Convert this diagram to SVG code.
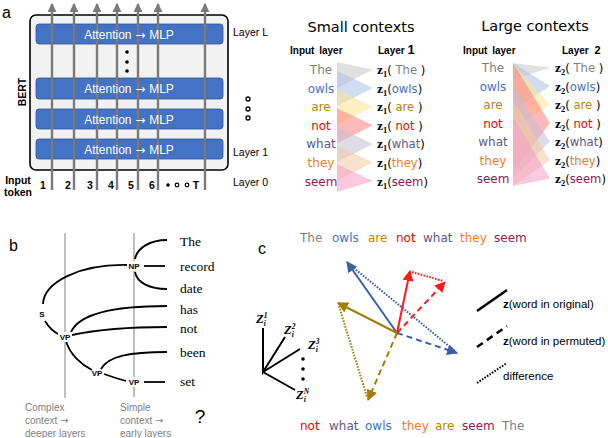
<svg xmlns="http://www.w3.org/2000/svg" width="608" height="438" viewBox="0 0 608 438">
<style>
.lbl{font-family:"Liberation Sans",Arial,sans-serif;font-size:16px;fill:#000}
.lay{font-family:"Liberation Sans",Arial,sans-serif;font-size:10.5px;fill:#000}
.bold{font-weight:bold}
.att{font-family:"Liberation Sans",Arial,sans-serif;font-size:12px;fill:#fff;text-anchor:middle}
.arr{font-family:"DejaVu Sans",sans-serif}
.bar{fill:#4472c4;stroke:#2f5597;stroke-width:0.8}
.tok{stroke:#7a7a7a;stroke-width:2.4}
.w{font-family:"DejaVu Sans",Verdana,sans-serif;font-size:12px}
.wz{font-family:"DejaVu Sans",Verdana,sans-serif;font-size:11.6px}
.ttl{font-family:"DejaVu Sans",Verdana,sans-serif;font-size:14.5px;fill:#000;text-anchor:middle}
.hdr{font-family:"Liberation Sans",Arial,sans-serif;font-size:10px;font-weight:bold;fill:#000}
.zs{font-family:"Liberation Serif","DejaVu Serif",serif;font-weight:bold;fill:#000}
.c-the{fill:#7f7f7f}.c-owls{fill:#4472c4}.c-are{fill:#b38800}.c-not{fill:#ff0000}.c-what{fill:#5c5a85}.c-they{fill:#ed7d31}.c-seem{fill:#8b1a56}
.tri{fill-opacity:0.55;stroke:none}
.tree{fill:none;stroke:#000;stroke-width:1.8}
.sw{font-family:"Liberation Serif","DejaVu Serif",serif;font-size:13.5px;fill:#000}
.node{font-family:"Liberation Sans",Arial,sans-serif;font-size:8px;font-weight:bold;fill:#000;text-anchor:middle}
.cap{font-family:"Liberation Sans",Arial,sans-serif;font-size:10px;fill:#7f7f7f}
.vl{stroke:#808080;stroke-width:1}
.ax{stroke:#000;stroke-width:2;fill:none}
.axl{font-family:"Liberation Serif","DejaVu Serif",serif;font-weight:bold;font-style:italic;font-size:12.5px;fill:#000}
.leg{font-family:"Liberation Sans",Arial,sans-serif;font-size:11.5px;fill:#000}
.vb{stroke:#3a5ea8;stroke-width:2;fill:none}
.vr{stroke:#ff1a1a;stroke-width:2;fill:none}
.vg{stroke:#a67c00;stroke-width:2;fill:none}
.dash{stroke-dasharray:6 4}
.dot{stroke-dasharray:1.6 1.4}
</style>
<defs>
<marker id="ag" viewBox="0 0 10 10" refX="9" refY="5" markerWidth="9" markerHeight="9" markerUnits="userSpaceOnUse" orient="auto"><path d="M0,0 L10,5 L0,10 z" fill="#7a7a7a"/></marker>
<marker id="ab" viewBox="0 0 10 10" refX="9" refY="5" markerWidth="11" markerHeight="11" markerUnits="userSpaceOnUse" orient="auto"><path d="M0,0 L10,5 L0,10 z" fill="#3a5ea8"/></marker>
<marker id="ar" viewBox="0 0 10 10" refX="9" refY="5" markerWidth="11" markerHeight="11" markerUnits="userSpaceOnUse" orient="auto"><path d="M0,0 L10,5 L0,10 z" fill="#ff1a1a"/></marker>
<marker id="ao" viewBox="0 0 10 10" refX="9" refY="5" markerWidth="11" markerHeight="11" markerUnits="userSpaceOnUse" orient="auto"><path d="M0,0 L10,5 L0,10 z" fill="#a67c00"/></marker>
</defs>
<rect width="608" height="438" fill="#fff"/>

<!-- Panel a: BERT -->
<g id="panel-a-bert">
<text class="lbl" x="2" y="18" font-size="17">a</text>
<rect x="30" y="15" width="198" height="155" rx="6" fill="#f2f2f2" stroke="#000" stroke-width="1.6"/>
<rect class="bar" x="36" y="24" width="187" height="20" rx="3"/>
<rect class="bar" x="36" y="78" width="187" height="21" rx="3"/>
<rect class="bar" x="36" y="109" width="187" height="20" rx="3"/>
<rect class="bar" x="36" y="139" width="187" height="20" rx="3"/>
<g id="token-arrows">
<line class="tok" x1="52" y1="190" x2="52" y2="4" marker-end="url(#ag)"/>
<line class="tok" x1="74" y1="190" x2="74" y2="4" marker-end="url(#ag)"/>
<line class="tok" x1="97" y1="190" x2="97" y2="4" marker-end="url(#ag)"/>
<line class="tok" x1="117" y1="190" x2="117" y2="4" marker-end="url(#ag)"/>
<line class="tok" x1="138" y1="190" x2="138" y2="4" marker-end="url(#ag)"/>
<line class="tok" x1="158" y1="190" x2="158" y2="4" marker-end="url(#ag)"/>
<line class="tok" x1="205" y1="190" x2="205" y2="4" marker-end="url(#ag)"/>
</g>
<g id="bar-L"><text class="att" x="129" y="38.5">Attention<tspan class="arr"> → </tspan>MLP</text></g>
<g id="bar-3"><text class="att" x="129" y="93">Attention<tspan class="arr"> → </tspan>MLP</text></g>
<g id="bar-2"><text class="att" x="129" y="123.5">Attention<tspan class="arr"> → </tspan>MLP</text></g>
<g id="bar-1"><text class="att" x="129" y="153.5">Attention<tspan class="arr"> → </tspan>MLP</text></g>
<circle cx="127" cy="52" r="1.8" fill="#000"/><circle cx="127" cy="62" r="1.8" fill="#000"/><circle cx="127" cy="71" r="1.8" fill="#000"/>
<circle cx="248" cy="99" r="2" fill="#fff" stroke="#000" stroke-width="1.3"/><circle cx="248" cy="109" r="2" fill="#fff" stroke="#000" stroke-width="1.3"/><circle cx="248" cy="118" r="2" fill="#fff" stroke="#000" stroke-width="1.3"/>
<text class="lay" x="233" y="36">Layer L</text>
<text class="lay" x="233" y="156">Layer 1</text>
<text class="lay" x="233" y="186">Layer 0</text>
<text class="lay bold" font-size="11" transform="translate(26,92) rotate(-90)" text-anchor="middle">BERT</text>
<text class="lay bold" x="18" y="184" font-size="10" text-anchor="middle">Input</text>
<text class="lay bold" x="18" y="196" font-size="10" text-anchor="middle">token</text>
<g class="lay bold" text-anchor="middle" font-size="10.5">
<text x="43" y="189">1</text><text x="68" y="189">2</text><text x="90" y="189">3</text><text x="111" y="189">4</text><text x="131" y="189">5</text><text x="152" y="189">6</text><text x="196" y="189">T</text>
</g>
<circle cx="168" cy="185" r="1.8" fill="#000"/>
<circle cx="177" cy="185" r="1.8" fill="#fff" stroke="#000" stroke-width="1.2"/>
<circle cx="187" cy="185" r="1.8" fill="#fff" stroke="#000" stroke-width="1.2"/>
</g>

<!-- Panel a: small contexts -->
<g id="panel-a-small">
<text class="ttl" x="361" y="32">Small contexts</text>
<text class="hdr" x="290" y="54" word-spacing="2">Input layer</text>
<text class="hdr" x="378" y="54">Layer <tspan font-size="13">1</tspan></text>
<g id="small-triangles">
<polygon class="tri" fill="#c8c8c8" points="337,62 373,69.5 337,88"/>
<polygon class="tri" fill="#a9c0e6" points="337,71 373,88.1 337,106"/>
<polygon class="tri" fill="#fde38f" points="337,89.7 373,106.7 337,124.7"/>
<polygon class="tri" fill="#ff8080" points="337,108.3 373,125.3 337,143.3"/>
<polygon class="tri" fill="#c3bfd6" points="337,126.9 373,143.9 337,161.9"/>
<polygon class="tri" fill="#f6c9a3" points="337,145.5 373,162.5 337,180.5"/>
<polygon class="tri" fill="#f59cc6" points="337,164.1 373,181.1 337,192"/>
</g>
<g class="w" text-anchor="middle">
<text class="c-the" x="321" y="74">The</text>
<text class="c-owls" x="321" y="92.5">owls</text>
<text class="c-are" x="321" y="111">are</text>
<text class="c-not" x="321" y="129.5">not</text>
<text class="c-what" x="321" y="148">what</text>
<text class="c-they" x="321" y="167">they</text>
<text class="c-seem" x="321" y="185.5">seem</text>
</g>
<g class="wz">
<text x="377" y="74"><tspan class="zs" font-size="13.5">z</tspan><tspan class="zs" font-size="8.5" dy="3">1</tspan><tspan dy="-3">(</tspan><tspan class="c-the"> The </tspan>)</text>
<text x="377" y="92.5"><tspan class="zs" font-size="13.5">z</tspan><tspan class="zs" font-size="8.5" dy="3">1</tspan><tspan dy="-3">(</tspan><tspan class="c-owls">owls</tspan>)</text>
<text x="377" y="111"><tspan class="zs" font-size="13.5">z</tspan><tspan class="zs" font-size="8.5" dy="3">1</tspan><tspan dy="-3">(</tspan><tspan class="c-are"> are </tspan>)</text>
<text x="377" y="129.5"><tspan class="zs" font-size="13.5">z</tspan><tspan class="zs" font-size="8.5" dy="3">1</tspan><tspan dy="-3">(</tspan><tspan class="c-not"> not </tspan>)</text>
<text x="377" y="148"><tspan class="zs" font-size="13.5">z</tspan><tspan class="zs" font-size="8.5" dy="3">1</tspan><tspan dy="-3">(</tspan><tspan class="c-what">what</tspan>)</text>
<text x="377" y="167"><tspan class="zs" font-size="13.5">z</tspan><tspan class="zs" font-size="8.5" dy="3">1</tspan><tspan dy="-3">(</tspan><tspan class="c-they">they</tspan>)</text>
<text x="377" y="185.5"><tspan class="zs" font-size="13.5">z</tspan><tspan class="zs" font-size="8.5" dy="3">1</tspan><tspan dy="-3">(</tspan><tspan class="c-seem">seem</tspan>)</text>
</g>
</g>

<!-- Panel a: large contexts -->
<g id="panel-a-large">
<text class="ttl" x="535" y="31">Large contexts</text>
<text class="hdr" x="463" y="54" word-spacing="2">Input layer</text>
<text class="hdr" x="562" y="54">Layer <tspan font-size="11" dx="3">2</tspan></text>
<g id="large-triangles">
<polygon class="tri" fill="#c8c8c8" points="513,63 550,67.5 513,80"/>
<polygon class="tri" fill="#a9c0e6" points="513,63 550,86 513,110"/>
<polygon class="tri" fill="#fde38f" points="513,63 550,104.5 513,128"/>
<polygon class="tri" fill="#ff8080" points="513,63 550,123 513,172"/>
<polygon class="tri" fill="#c3bfd6" points="513,86 550,141.5 513,178"/>
<polygon class="tri" fill="#f6c9a3" points="513,100 550,160 513,186"/>
<polygon class="tri" fill="#f59cc6" points="513,117 550,178.5 513,186"/>
</g>
<g class="w" text-anchor="middle">
<text class="c-the" x="493" y="72">The</text>
<text class="c-owls" x="493" y="90.5">owls</text>
<text class="c-are" x="493" y="109">are</text>
<text class="c-not" x="493" y="127.5">not</text>
<text class="c-what" x="493" y="146">what</text>
<text class="c-they" x="493" y="164.5">they</text>
<text class="c-seem" x="493" y="183">seem</text>
</g>
<g class="wz">
<text x="555" y="72"><tspan class="zs" font-size="13.5">z</tspan><tspan class="zs" font-size="8.5" dy="3">2</tspan><tspan dy="-3">(</tspan><tspan class="c-the"> The </tspan>)</text>
<text x="555" y="90.5"><tspan class="zs" font-size="13.5">z</tspan><tspan class="zs" font-size="8.5" dy="3">2</tspan><tspan dy="-3">(</tspan><tspan class="c-owls">owls</tspan>)</text>
<text x="555" y="109"><tspan class="zs" font-size="13.5">z</tspan><tspan class="zs" font-size="8.5" dy="3">2</tspan><tspan dy="-3">(</tspan><tspan class="c-are"> are </tspan>)</text>
<text x="555" y="127.5"><tspan class="zs" font-size="13.5">z</tspan><tspan class="zs" font-size="8.5" dy="3">2</tspan><tspan dy="-3">(</tspan><tspan class="c-not"> not </tspan>)</text>
<text x="555" y="146"><tspan class="zs" font-size="13.5">z</tspan><tspan class="zs" font-size="8.5" dy="3">2</tspan><tspan dy="-3">(</tspan><tspan class="c-what">what</tspan>)</text>
<text x="555" y="164.5"><tspan class="zs" font-size="13.5">z</tspan><tspan class="zs" font-size="8.5" dy="3">2</tspan><tspan dy="-3">(</tspan><tspan class="c-they">they</tspan>)</text>
<text x="555" y="183"><tspan class="zs" font-size="13.5">z</tspan><tspan class="zs" font-size="8.5" dy="3">2</tspan><tspan dy="-3">(</tspan><tspan class="c-seem">seem</tspan>)</text>
</g>
</g>

<!-- Panel b: parse tree -->
<g id="panel-b">
<text class="lbl" x="9" y="251" font-size="17">b</text>
<line class="vl" x1="65" y1="233" x2="65" y2="398"/>
<line class="vl" x1="134" y1="233" x2="134" y2="397"/>
<g id="tree-edges">
<path class="tree" d="M43 304 C44 282 80 264 127 265"/>
<path class="tree" d="M45 321 Q51 331 60 335"/>
<path class="tree" d="M135 259 C137 248 150 240 167 240"/>
<path class="tree" d="M144 266 L165 266"/>
<path class="tree" d="M135 272 C137 283 150 289 167 289"/>
<path class="tree" d="M71 332 C80 312 120 306 167 306"/>
<path class="tree" d="M72 335 C100 329 130 327 167 327"/>
<path class="tree" d="M66 341 C70 355 82 365 92 370"/>
<path class="tree" d="M101 369 C108 356 130 352 167 352"/>
<path class="tree" d="M104 374 Q115 378 126 381"/>
<path class="tree" d="M144 382 L165 382"/>
</g>
<g id="node-NP"><rect x="127" y="261" width="14" height="10" fill="#fff"/><text class="node" x="134" y="269">NP</text></g>
<g id="node-S"><text class="node" x="42" y="317" font-size="10">S</text></g>
<g id="node-VP1"><rect x="58" y="332" width="14" height="10" fill="#fff"/><text class="node" x="65" y="340">VP</text></g>
<g id="node-VP2"><text class="node" x="97" y="376">VP</text></g>
<g id="node-VP3"><rect x="127" y="377" width="14" height="10" fill="#fff"/><text class="node" x="134" y="385">VP</text></g>
<g class="sw">
<text x="180" y="246">The</text>
<text x="180" y="271">record</text>
<text x="180" y="293">date</text>
<text x="180" y="314">has</text>
<text x="180" y="333">not</text>
<text x="180" y="357">been</text>
<text x="180" y="386">set</text>
</g>
<g class="cap">
<text x="25" y="411">Complex</text><text x="25" y="424">context <tspan class="arr">→</tspan></text><text x="25" y="437">deeper layers</text>
<text x="120" y="411">Simple</text><text x="120" y="424">context <tspan class="arr">→</tspan></text><text x="120" y="437">early layers</text>
</g>
<text x="200" y="423" font-family="Liberation Sans,Arial,sans-serif" font-size="19" text-anchor="middle">?</text>
</g>

<!-- Panel c -->
<g id="panel-c">
<text class="lbl" x="258" y="254" font-size="17">c</text>
<g class="w">
<text class="c-the" x="300" y="242">The</text>
<text class="c-owls" x="332" y="242">owls</text>
<text class="c-are" x="368" y="242">are</text>
<text class="c-not" x="396" y="242">not</text>
<text class="c-what" x="423" y="242">what</text>
<text class="c-they" x="460" y="242">they</text>
<text class="c-seem" x="494" y="242">seem</text>
</g>
<g class="w">
<text class="c-not" x="300" y="430">not</text>
<text class="c-what" x="329" y="430">what</text>
<text class="c-owls" x="365" y="430">owls</text>
<text class="c-they" x="402" y="430">they</text>
<text class="c-are" x="435" y="430">are</text>
<text class="c-seem" x="462" y="430">seem</text>
<text class="c-the" x="502" y="430">The</text>
</g>
<g id="axes">
<path class="ax" d="M263 328 L263 372 L285 337 M263 372 L300 349 M263 372 L295 390"/>
<circle cx="303" cy="359" r="1.8" fill="#000"/><circle cx="303" cy="369" r="1.8" fill="#000"/><circle cx="303" cy="379" r="1.8" fill="#000"/>
<text class="axl" x="256" y="323">Z<tspan font-size="7.5" dy="3">i</tspan><tspan font-size="7.5" dx="-2" dy="-8">1</tspan></text>
<text class="axl" x="284" y="334">Z<tspan font-size="7.5" dy="3">i</tspan><tspan font-size="7.5" dx="-2" dy="-8">2</tspan></text>
<text class="axl" x="308" y="349">Z<tspan font-size="7.5" dy="3">i</tspan><tspan font-size="7.5" dx="-2" dy="-8">3</tspan></text>
<text class="axl" x="296" y="399">Z<tspan font-size="7.5" dy="3">i</tspan><tspan font-size="7.5" dx="-2" dy="-8">N</tspan></text>
</g>
<g id="vectors">
<line class="vb dot" x1="349" y1="264" x2="455" y2="351"/>
<line class="vr dot" x1="412" y1="272" x2="443" y2="281"/>
<line class="vg dot" x1="339" y1="306" x2="367" y2="397"/>
<line class="vb" x1="397" y1="333" x2="347" y2="262" marker-end="url(#ab)"/>
<line class="vb dash" x1="397" y1="333" x2="457" y2="353" marker-end="url(#ab)"/>
<line class="vr" x1="397" y1="333" x2="410" y2="271" marker-end="url(#ar)"/>
<line class="vr dash" x1="397" y1="333" x2="445" y2="282" marker-end="url(#ar)"/>
<line class="vg" x1="397" y1="333" x2="338" y2="303" marker-end="url(#ao)"/>
<line class="vg dash" x1="397" y1="333" x2="368" y2="400" marker-end="url(#ao)"/>
</g>
<g id="legend">
<line x1="477" y1="311" x2="507" y2="290" stroke="#000" stroke-width="2.5"/>
<text class="leg" x="503" y="308"><tspan font-weight="bold">z</tspan>(word in original)</text>
<line x1="477" y1="347" x2="507" y2="326" stroke="#000" stroke-width="2.5" stroke-dasharray="7 5"/>
<text class="leg" x="503" y="345"><tspan font-weight="bold">z</tspan>(word in permuted)</text>
<line x1="477" y1="383" x2="507" y2="363" stroke="#000" stroke-width="2" stroke-dasharray="1.6 1.4"/>
<text class="leg" x="503" y="380">difference</text>
</g>
</g>
</svg>
